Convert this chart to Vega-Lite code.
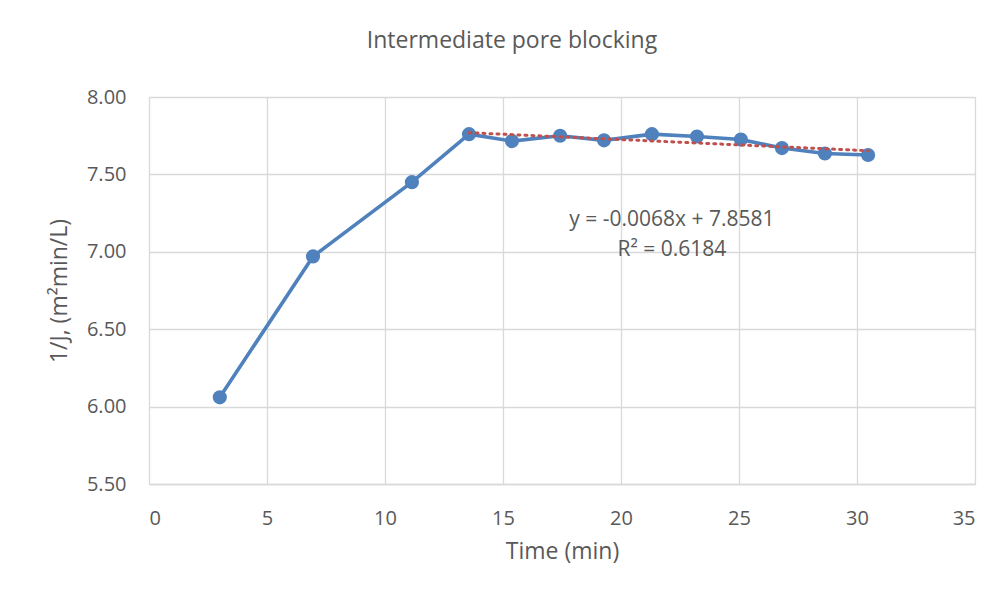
{
  "$schema": "https://vega.github.io/schema/vega-lite/v6.json",
  "autosize": "none",
  "width": 826,
  "height": 387,
  "padding": {"left": 149, "top": 97, "right": 28, "bottom": 109},
  "background": "white",
  "title": {
    "text": "Intermediate pore blocking",
    "font": "Open Sans",
    "fontSize": 23,
    "fontWeight": "normal",
    "color": "#595959",
    "anchor": "middle",
    "dx": -50,
    "offset": 34
  },
  "config": {
    "view": {"stroke": null},
    "axis": {
      "labelFont": "Open Sans",
      "labelFontSize": 20,
      "labelColor": "#595959",
      "titleFont": "Open Sans",
      "titleFontSize": 23,
      "titleFontWeight": "normal",
      "titleColor": "#595959",
      "gridColor": "#D9D9D9",
      "gridWidth": 1.3,
      "domainColor": "#D9D9D9",
      "domainWidth": 1.3,
      "ticks": false
    }
  },
  "data": {
    "values": [
      {"t": 3.0, "v": 6.06},
      {"t": 6.95, "v": 6.97},
      {"t": 11.14, "v": 7.45},
      {"t": 13.56, "v": 7.76},
      {"t": 15.38, "v": 7.715},
      {"t": 17.42, "v": 7.75},
      {"t": 19.28, "v": 7.72},
      {"t": 21.31, "v": 7.76},
      {"t": 23.22, "v": 7.745},
      {"t": 25.08, "v": 7.725},
      {"t": 26.82, "v": 7.67},
      {"t": 28.64, "v": 7.635},
      {"t": 30.47, "v": 7.625}
    ]
  },
  "encoding": {
    "x": {
      "field": "t",
      "type": "quantitative",
      "scale": {"domain": [0, 35], "nice": false},
      "axis": {"title": "Time (min)", "values": [0, 5, 10, 15, 20, 25, 30, 35], "labelPadding": 24, "titlePadding": 12, "domain": true}
    },
    "y": {
      "field": "v",
      "type": "quantitative",
      "scale": {"domain": [5.5, 8], "nice": false, "zero": false},
      "axis": {"title": "1/J, (m²min/L)", "values": [5.5, 6, 6.5, 7, 7.5, 8], "format": ".2f", "labelPadding": 23, "titlePadding": 15, "domain": false}
    }
  },
  "layer": [
    {
      "mark": {"type": "line", "color": "#4F81BD", "strokeWidth": 3.6},
      "encoding": {}
    },
    {
      "mark": {"type": "point", "filled": true, "opacity": 1, "color": "#4F81BD", "size": 200},
      "encoding": {}
    },
    {
      "transform": [
        {"filter": "datum.t >= 13"},
        {"regression": "v", "on": "t"}
      ],
      "mark": {"type": "line", "color": "#C0504D", "strokeWidth": 3, "strokeDash": [2, 5], "strokeCap": "round"},
      "encoding": {}
    },
    {
      "data": {
        "values": [
          {"t": 22.16, "v": 7.205, "label": "y = -0.0068x + 7.8581"},
          {"t": 22.16, "v": 7.01, "label": "R² = 0.6184"}
        ]
      },
      "mark": {"type": "text", "font": "Open Sans", "fontSize": 21, "color": "#595959", "align": "center", "baseline": "middle"},
      "encoding": {"text": {"field": "label"}}
    }
  ]
}
